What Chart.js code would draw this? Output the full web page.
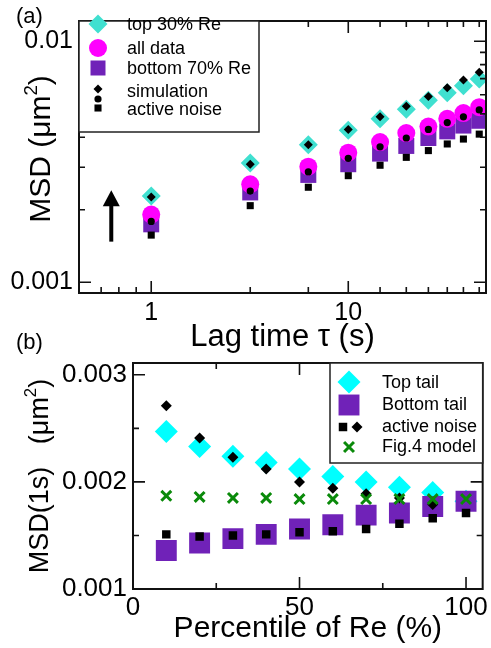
<!DOCTYPE html>
<html>
<head>
<meta charset="utf-8">
<script src="https://cdn.jsdelivr.net/npm/chart.js@4.4.0/dist/chart.umd.min.js"></script>
<style>
  body { margin: 0; background: #fff; width: 491px; height: 648px; position: relative; overflow: hidden; }
  canvas { position: absolute; left: 0; }
  #chartA { top: 0; }
  #chartB { top: 330px; }
</style>
</head>
<body>
<canvas id="chartA" width="491" height="356"></canvas>
<canvas id="chartB" width="491" height="318"></canvas>
<script>
// ---- panel (a): MSD vs lag time ----
const lagTime   = [1, 3.18, 6.27, 10, 14.5, 19.7, 25.5, 31.8, 38.4, 46.2];
const top30     = [0.00228, 0.00313, 0.00372, 0.00427, 0.00477, 0.00523, 0.00569, 0.00612, 0.00654, 0.00697];
const allData   = [0.00191, 0.00255, 0.00302, 0.00345, 0.00382, 0.00416, 0.00443, 0.00477, 0.00504, 0.00533];
const bottom70  = [0.00174, 0.00236, 0.00279, 0.00309, 0.00342, 0.00368, 0.00397, 0.00423, 0.00447, 0.00468];
const simTop    = [0.00226, 0.00309, 0.00372, 0.00431, 0.00486, 0.00538, 0.00590, 0.00642, 0.00691, 0.00744];
const simAll    = [0.00179, 0.00239, 0.00287, 0.00327, 0.00365, 0.00397, 0.00431, 0.00460, 0.00486, 0.00519];
const simBottom = [0.00157, 0.00208, 0.00248, 0.00277, 0.00306, 0.00330, 0.00352, 0.00375, 0.00393, 0.00412];

const xTicksA      = [1, 10];
const xTickLabelsA = ['1', '10'];
const xMinorA      = [0.557, 0.685, 0.839, 3.18, 6.27, 14.5, 19.7, 25.5, 31.8, 38.4, 46.2];
const yTicksA      = [0.001, 0.01];
const yTickLabelsA = ['0.001', '0.01'];
const yMinorA      = [0.002, 0.003, 0.004, 0.005, 0.006, 0.007, 0.008, 0.009];

// ---- panel (b): MSD(1s) vs percentile of Re ----
const percentile  = [10, 20, 30, 40, 50, 60, 70, 80, 90, 100];
const topTail     = [0.00247, 0.00233, 0.00224, 0.00218, 0.00212, 0.00205, 0.00200, 0.00195, 0.00190, 0.00182];
const bottomTail  = [0.00136, 0.00143, 0.00147, 0.00151, 0.00156, 0.00160, 0.00169, 0.00171, 0.00177, 0.00182];
const noiseTop    = [0.00271, 0.00241, 0.00223, 0.00212, 0.00200, 0.00194, 0.00189, 0.00185, 0.00179, null];
const noiseBottom = [0.00151, 0.00149, 0.00150, 0.00151, 0.00153, 0.00154, 0.00156, 0.00161, 0.00166, 0.00171];
const fig4Model   = [0.00187, 0.00186, 0.00185, 0.00185, 0.00184, 0.00184, 0.00184, 0.00184, 0.00184, 0.00184];

const xTicksB      = [0, 50, 100];
const xTickLabelsB = ['0', '50', '100'];
const xMinorB      = [25, 75];
const yTicksB      = [0.001, 0.002, 0.003];
const yTickLabelsB = ['0.001', '0.002', '0.003'];
const yMinorB      = [0.0015, 0.0025];

const FONT = '"Liberation Sans", Arial, Helvetica, sans-serif';
const TURQ = '#40e0d0', CYAN = '#00ffff', MAGENTA = '#ff00ff', PURPLE = '#7022b8', GREEN = '#0a8a0a';

function pts(xs, ys) {
    return xs.map((x, i) => ({ x: x, y: ys[i] }));
}

function ds(label, xs, ys, color, style, radius, order, lw) {
    return {
        label: label,
        data: pts(xs, ys),
        pointStyle: style,
        pointRadius: radius,
        pointHoverRadius: radius,
        backgroundColor: color,
        borderColor: color,
        pointBorderWidth: lw || 0,
        order: order,
    };
}

// draw one marker by hand (for the legends)
function marker(ctx, style, x, y, r, color, lw) {
    ctx.save();
    ctx.fillStyle = color;
    ctx.strokeStyle = color;
    ctx.beginPath();
    if (style === 'rectRot') {
        ctx.moveTo(x - r, y); ctx.lineTo(x, y - r); ctx.lineTo(x + r, y); ctx.lineTo(x, y + r);
        ctx.closePath(); ctx.fill();
    } else if (style === 'rect') {
        const h = r * Math.SQRT1_2;
        ctx.rect(x - h, y - h, 2 * h, 2 * h); ctx.fill();
    } else if (style === 'circle') {
        ctx.arc(x, y, r, 0, Math.PI * 2); ctx.fill();
    } else if (style === 'crossRot') {
        const h = r * Math.SQRT1_2;
        ctx.moveTo(x - h, y - h); ctx.lineTo(x + h, y + h);
        ctx.moveTo(x + h, y - h); ctx.lineTo(x - h, y + h);
        ctx.lineWidth = lw; ctx.stroke();
    }
    ctx.restore();
}

// frame with inward ticks on all four sides
function drawFrame(chart, xMaj, xMin, yMaj, yMin) {
    const { ctx, chartArea: a, scales } = chart;
    ctx.save();
    ctx.strokeStyle = '#111';
    ctx.lineWidth = 1.6;
    ctx.beginPath();
    const xt = (vals, len) => vals.forEach(v => {
        const p = scales.x.getPixelForValue(v);
        ctx.moveTo(p, a.bottom); ctx.lineTo(p, a.bottom - len);
        ctx.moveTo(p, a.top); ctx.lineTo(p, a.top + len);
    });
    const yt = (vals, len) => vals.forEach(v => {
        const p = scales.y.getPixelForValue(v);
        ctx.moveTo(a.left, p); ctx.lineTo(a.left + len, p);
        ctx.moveTo(a.right, p); ctx.lineTo(a.right - len, p);
    });
    xt(xMaj, 12); xt(xMin, 6); yt(yMaj, 12); yt(yMin, 6);
    ctx.stroke();
    ctx.lineWidth = 2;
    ctx.strokeRect(a.left, a.top, a.right - a.left, a.bottom - a.top);
    ctx.restore();
}

// rotated y title with a superscript part
function yTitle(ctx, x, y, parts, size) {
    ctx.save();
    ctx.translate(x, y);
    ctx.rotate(-Math.PI / 2);
    ctx.fillStyle = '#000';
    ctx.textBaseline = 'alphabetic';
    ctx.textAlign = 'left';
    let total = 0;
    parts.forEach(p => {
        ctx.font = (p.sup ? size * 0.62 : size) + 'px ' + FONT;
        p.w = ctx.measureText(p.t).width;
        total += p.w;
    });
    let cx = -total / 2;
    parts.forEach(p => {
        ctx.font = (p.sup ? size * 0.62 : size) + 'px ' + FONT;
        ctx.fillText(p.t, cx, p.sup ? -size * 0.45 : 0);
        cx += p.w;
    });
    ctx.restore();
}

function text(ctx, t, x, y, size) {
    ctx.save();
    ctx.fillStyle = '#000';
    ctx.font = size + 'px ' + FONT;
    ctx.textBaseline = 'middle';
    ctx.textAlign = 'left';
    ctx.fillText(t, x, y);
    ctx.restore();
}

function legendBox(ctx, x, y, w, h) {
    ctx.save();
    ctx.fillStyle = '#fff';
    ctx.fillRect(x, y, w, h);
    ctx.strokeStyle = '#222';
    ctx.lineWidth = 1.5;
    ctx.strokeRect(x, y, w, h);
    ctx.restore();
}

const decorA = {
    id: 'decorA',
    afterDraw(chart) {
        const { ctx, scales } = chart;
        drawFrame(chart, xTicksA, xMinorA, yTicksA, yMinorA);

        // arrow
        const ax = scales.x.getPixelForValue(0.627);
        const tip = scales.y.getPixelForValue(0.002408);
        const tail = scales.y.getPixelForValue(0.001475);
        ctx.save();
        ctx.strokeStyle = '#000';
        ctx.fillStyle = '#000';
        ctx.lineWidth = 4;
        ctx.beginPath(); ctx.moveTo(ax, tail); ctx.lineTo(ax, tip + 12); ctx.stroke();
        ctx.beginPath(); ctx.moveTo(ax, tip); ctx.lineTo(ax - 8.5, tip + 16); ctx.lineTo(ax + 8.5, tip + 16);
        ctx.closePath(); ctx.fill();
        ctx.restore();

        // legend
        const a = chart.chartArea;
        legendBox(ctx, a.left, a.top, 180, 111);
        const lx = a.left + 19, tx = a.left + 48;
        marker(ctx, 'rectRot', lx, 24, 9.5, TURQ);
        marker(ctx, 'circle', lx, 48, 9, MAGENTA);
        marker(ctx, 'rect', lx, 68, 10.6, PURPLE);
        marker(ctx, 'rectRot', lx, 89, 4.5, '#000');
        marker(ctx, 'circle', lx, 99, 3.6, '#000');
        marker(ctx, 'rect', lx, 108, 5, '#000');
        text(ctx, 'top 30% Re', tx, 25, 18);
        text(ctx, 'all data', tx, 49, 18);
        text(ctx, 'bottom 70% Re', tx, 69, 18);
        text(ctx, 'simulation', tx, 92, 18);
        text(ctx, 'active noise', tx, 110, 18);

        yTitle(ctx, 50, 149, [{ t: 'MSD (\u03bcm' }, { t: '2', sup: true }, { t: ')' }], 30);
        text(ctx, '(a)', 16, 17, 22);
    },
};

const decorB = {
    id: 'decorB',
    afterDraw(chart) {
        const { ctx } = chart;
        drawFrame(chart, xTicksB, xMinorB, yTicksB, yMinorB);

        const a = chart.chartArea;
        const bx = 330, by = a.top;
        legendBox(ctx, bx, by, a.right - bx, 100);
        const lx = 349, tx = 382;
        marker(ctx, 'rectRot', lx, 52, 11.5, CYAN);
        marker(ctx, 'rect', lx, 75, 14.8, PURPLE);
        marker(ctx, 'rect', 343, 97, 6, '#000');
        marker(ctx, 'rectRot', 357, 97, 5.5, '#000');
        marker(ctx, 'crossRot', lx, 117, 7, GREEN, 3);
        text(ctx, 'Top tail', tx, 53, 18);
        text(ctx, 'Bottom tail', tx, 75, 18);
        text(ctx, 'active noise', tx, 97, 18);
        text(ctx, 'Fig.4 model', tx, 117, 18);

        yTitle(ctx, 48, 146, [{ t: 'MSD(1s)   (\u03bcm' }, { t: '2', sup: true }, { t: ')' }], 27);
        text(ctx, '(b)', 16, 13, 22);
    },
};

const tickFont = (s) => ({ family: FONT, size: s });

const chartA = new Chart(document.getElementById('chartA'), {
    type: 'scatter',
    data: {
        datasets: [
            ds('top 30% Re', lagTime, top30, TURQ, 'rectRot', 9.5, 3),
            ds('bottom 70% Re', lagTime, bottom70, PURPLE, 'rect', 11.3, 2),
            ds('all data', lagTime, allData, MAGENTA, 'circle', 9, 1),
            ds('simulation top', lagTime, simTop, '#000', 'rectRot', 4.5, 0),
            ds('simulation all', lagTime, simAll, '#000', 'circle', 3.6, 0),
            ds('active noise', lagTime, simBottom, '#000', 'rect', 5, 0),
        ],
    },
    options: {
        responsive: false,
        animation: false,
        layout: { autoPadding: false, padding: { left: 0, top: 12, right: 5, bottom: 0 } },
        plugins: { legend: { display: false }, tooltip: { enabled: false } },
        scales: {
            x: {
                type: 'logarithmic',
                min: 0.43,
                max: 50,
                grid: { display: false, drawTicks: false },
                border: { display: false },
                afterBuildTicks: (s) => { s.ticks = xTicksA.map(v => ({ value: v })); },
                afterFit: (s) => { s.height = 63; },
                ticks: {
                    autoSkip: false, maxRotation: 0, padding: 5, color: '#000', font: tickFont(25),
                    callback: (v, i) => xTickLabelsA[i],
                },
                title: {
                    display: true, text: 'Lag time \u03c4 (s)', color: '#000',
                    font: { family: FONT, size: 31 }, padding: { top: 0, bottom: 0 },
                },
            },
            y: {
                type: 'logarithmic',
                min: 0.000903,
                max: 0.01214,
                grid: { display: false, drawTicks: false },
                border: { display: false },
                afterBuildTicks: (s) => { s.ticks = yTicksA.map(v => ({ value: v })); },
                afterFit: (s) => { s.width = 79; },
                ticks: {
                    autoSkip: false, padding: 6, color: '#000', font: tickFont(25),
                    callback: (v, i) => yTickLabelsA[i],
                },
            },
        },
    },
    plugins: [decorA],
});

const chartB = new Chart(document.getElementById('chartB'), {
    type: 'scatter',
    data: {
        datasets: [
            ds('Top tail', percentile, topTail, CYAN, 'rectRot', 11.5, 4),
            ds('Bottom tail', percentile, bottomTail, PURPLE, 'rect', 14.8, 3),
            ds('active noise (bottom)', percentile, noiseBottom, '#000', 'rect', 6, 2),
            ds('active noise (top)', percentile, noiseTop, '#000', 'rectRot', 5.5, 1),
            ds('Fig.4 model', percentile, fig4Model, GREEN, 'crossRot', 7, 0, 3),
        ],
    },
    options: {
        responsive: false,
        animation: false,
        layout: { autoPadding: false, padding: { left: 0, top: 33, right: 6, bottom: 0 } },
        plugins: { legend: { display: false }, tooltip: { enabled: false } },
        scales: {
            x: {
                type: 'linear',
                min: 0,
                max: 105,
                grid: { display: false, drawTicks: false },
                border: { display: false },
                afterBuildTicks: (s) => { s.ticks = xTicksB.map(v => ({ value: v })); },
                afterFit: (s) => { s.height = 59; },
                ticks: {
                    autoSkip: false, maxRotation: 0, padding: 3, color: '#000', font: tickFont(26),
                    callback: (v, i) => xTickLabelsB[i],
                },
                title: {
                    display: true, text: 'Percentile of Re (%)', color: '#000',
                    font: { family: FONT, size: 30 }, padding: { top: 0, bottom: 1 },
                },
            },
            y: {
                type: 'linear',
                min: 0.001,
                max: 0.00311,
                grid: { display: false, drawTicks: false },
                border: { display: false },
                afterBuildTicks: (s) => { s.ticks = yTicksB.map(v => ({ value: v })); },
                afterFit: (s) => { s.width = 133; },
                ticks: {
                    autoSkip: false, padding: 6, color: '#000', font: tickFont(26),
                    callback: (v, i) => yTickLabelsB[i],
                },
            },
        },
    },
    plugins: [decorB],
});
</script>
</body>
</html>
